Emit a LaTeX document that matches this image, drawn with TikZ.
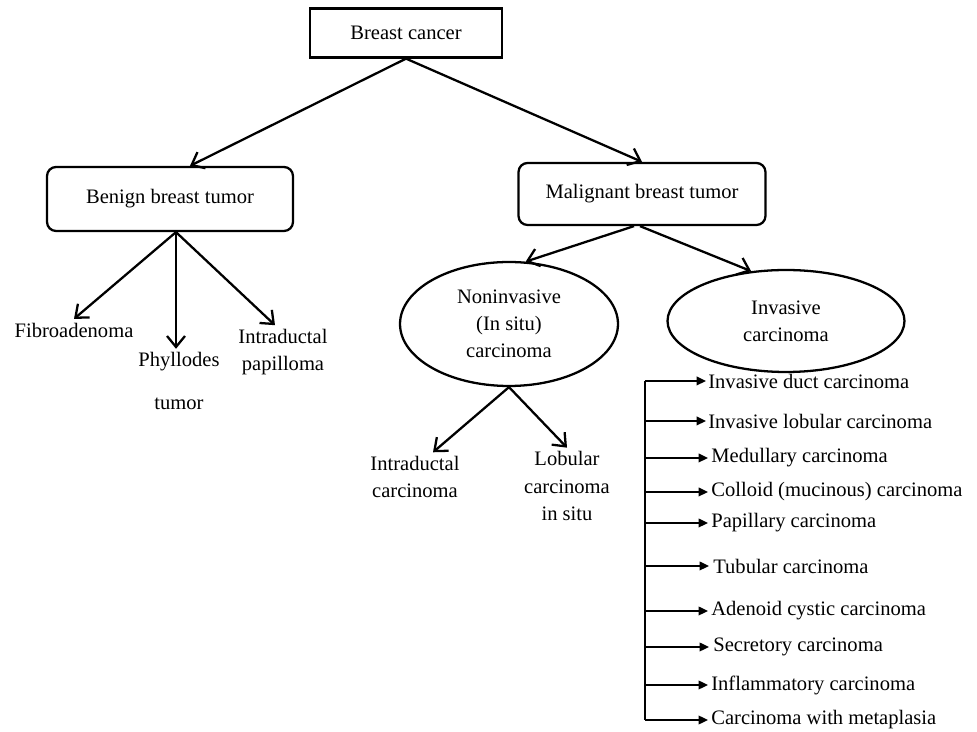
\documentclass[tikz,border=0pt]{standalone}
\usepackage{fontspec}
\setmainfont{Liberation Serif}
\usetikzlibrary{shapes.geometric, arrows.meta, calc}
\tikzstyle{box} = [rectangle, draw=black, line width=1.3pt, minimum width=3.84cm,
minimum height=0.98cm, text centered]
\tikzstyle{rbox} = [rectangle, rounded corners=0.18cm, draw=black, line width=1.3pt,
minimum width=4.92cm, minimum height=1.28cm, text centered]
\tikzstyle{oval} = [ellipse, draw=black, line width=1.3pt, inner sep=0pt, align=center]
\tikzstyle{leaf} = [align=center, inner sep=2pt]
\tikzstyle{subtype} = [anchor=west, inner sep=0pt]
\tikzstyle{arrow} = [line width=1.3pt, -{Straight Barb[length=2.2mm, width=3.6mm]}]
\tikzstyle{listarrow} = [line width=1.3pt, -{Triangle[length=1.9mm, width=1.7mm]}]
\tikzstyle{line} = [line width=1.3pt, -]

\begin{document}
\begin{tikzpicture}[x=0.02cm, y=-0.02cm, font=\fontsize{11.7}{15.5}\selectfont]
        \useasboundingbox (0,0) rectangle (977,732);

        \node (BC) [box] at (406,33) {Breast cancer};
        \node (BBT) [rbox] at (170,199) {Benign breast tumor};
        \node (MBT) [rbox, minimum width=4.94cm, minimum height=1.24cm] at (642,194) {Malignant breast tumor};

        % benign side
        \node (FA) [leaf] at (74,330) {Fibroadenoma};
        \node (PT) [leaf] at (179,381) {Phyllodes\\[0.3cm]tumor};
        \node (IP) [leaf] at (283,352) {Intraductal\\papilloma};

        % malignant side
        \node (NI) [oval, minimum width=4.36cm, minimum height=2.48cm] at (509,324) {Noninvasive\\(In situ)\\carcinoma};
        \node (INV) [oval, minimum width=4.74cm, minimum height=2.04cm] at (786,321) {Invasive\\carcinoma};
        \node (IDC) [leaf] at (415,477) {Intraductal\\carcinoma};
        \node (LCIS) [leaf] at (567,486) {Lobular\\carcinoma\\in situ};

        \draw [arrow] (BC.south) -- ([xshift=0.4cm]BBT.north);
        \draw [arrow] (BC.south) -- (MBT.north);

        \coordinate (B0) at ([xshift=0.12cm]BBT.south); % all benign arrows leave from here
        \draw [arrow] (B0) -- (FA.north);
        \draw [arrow] (B0) -- (B0 |- PT.north);
        \draw [arrow] (B0) -- ([xshift=-0.16cm]IP.north);

        \draw [arrow] ([xshift=-0.16cm]MBT.south) -- (NI.75);
        \draw [arrow] ([xshift=-0.04cm]MBT.south) -- (INV.125);

        \draw [arrow] (NI.south) -- ([xshift=0.36cm]IDC.north);
        \draw [arrow] (NI.south) -- (LCIS.north);

        % invasive subtypes
        \node (L1) [subtype] at (708,381) {Invasive duct carcinoma};
        \node (L2) [subtype] at (708,421) {Invasive lobular carcinoma};
        \node (L3) [subtype] at (711,458) {Medullary carcinoma};
        \node (L4) [subtype] at (711,492) {Colloid (mucinous) carcinoma};
        \node (L5) [subtype] at (711,523) {Papillary carcinoma};
        \node (L6) [subtype] at (713,566) {Tubular carcinoma};
        \node (L7) [subtype] at (711,611) {Adenoid cystic carcinoma};
        \node (L8) [subtype] at (713,647) {Secretory carcinoma};
        \node (L9) [subtype] at (711,685) {Inflammatory carcinoma};
        \node (L10) [subtype] at (711,720) {Carcinoma with metaplasia};

        \coordinate (T1) at (645,381);
        \coordinate (T10) at (645,720);
        \draw [line] (T1) -- (T10);
        \draw [listarrow] (T1) -- ([xshift=-0.04cm]L1.west);
        \draw [listarrow] (T1 |- L2.west) -- ([xshift=-0.04cm]L2.west);
        \draw [listarrow] (T1 |- L3.west) -- ([xshift=-0.06cm]L3.west);
        \draw [listarrow] (T1 |- L4.west) -- ([xshift=-0.06cm]L4.west);
        \draw [listarrow] (T1 |- L5.west) -- ([xshift=-0.06cm]L5.west);
        \draw [listarrow] (T1 |- L6.west) -- ([xshift=-0.08cm]L6.west);
        \draw [listarrow] (T1 |- L7.west) -- ([xshift=-0.06cm]L7.west);
        \draw [listarrow] (T1 |- L8.west) -- ([xshift=-0.08cm]L8.west);
        \draw [listarrow] (T1 |- L9.west) -- ([xshift=-0.06cm]L9.west);
        \draw [listarrow] (T10) -- ([xshift=-0.06cm]L10.west);

    \end{tikzpicture}
\end{document}
